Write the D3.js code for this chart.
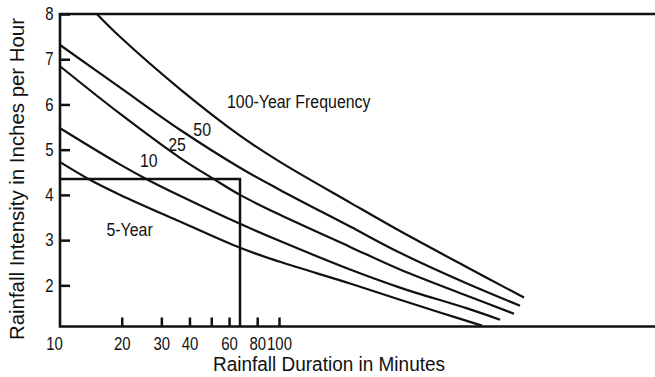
<!doctype html>
<html>
<head>
<meta charset="utf-8">
<title>Rainfall Intensity vs Duration</title>
<script src="https://d3js.org/d3.v7.min.js"></script>
<style>
  body { margin: 0; background: #fff; }
  text { font-family: "Liberation Sans", Arial, sans-serif; fill: #111; }
</style>
</head>
<body>
<svg width="655" height="377"></svg>
<script>
// durations (minutes) and intensities (inches per hour)
const dur5   = [10.6, 14.5, 19.7, 36.3, 67.1, 101, 207, 345, 519, 798];
const int5   = [4.73, 4.33, 4.00, 3.41, 2.83, 2.52, 2.04, 1.68, 1.40, 1.11];
const dur10  = [10.6, 19.7, 26.2, 36.3, 67.1, 101, 207, 345, 685, 960];
const int10  = [5.48, 4.67, 4.33, 3.98, 3.36, 2.98, 2.35, 1.95, 1.49, 1.24];
const dur25  = [10.6, 19.7, 36.3, 50.9, 67.1, 101, 207, 345, 685, 1108];
const int25  = [6.85, 5.79, 4.82, 4.36, 4.00, 3.56, 2.85, 2.35, 1.77, 1.37];
const dur50  = [10.6, 19.7, 36.3, 67.1, 101, 207, 345, 685, 1178];
const int50  = [7.32, 6.37, 5.44, 4.60, 4.11, 3.30, 2.72, 2.04, 1.55];
const dur100 = [15.5, 19.7, 36.3, 67.1, 101, 207, 345, 685, 1227];
const int100 = [8.00, 7.49, 6.34, 5.31, 4.73, 3.83, 3.20, 2.40, 1.73];

const xTicks = [10, 20, 30, 40, 50, 60, 80, 100];
const xTickLabels = ["10", "20", "30", "40", "", "60", "80", "100"];
const yTicks = [2, 3, 4, 5, 6, 7, 8];

// example reading: 67 minute storm -> 4.35 in/hr
const refDuration = 67.1, refIntensity = 4.35;

const curveLabels = [
  {text: "100-Year Frequency", t: 58.7, i: 5.92},
  {text: "50", t: 41.6, i: 5.31},
  {text: "25", t: 32.2, i: 4.97},
  {text: "10", t: 24.1, i: 4.61},
  {text: "5-Year", t: 17.1, i: 3.10}
];

const series = [
  [dur5, int5], [dur10, int10], [dur25, int25], [dur50, int50], [dur100, int100]
].map(([d, v]) => d.map((t, k) => ({t: t, i: v[k]})));

const svg = d3.select("svg");
const plotLeft = 60, plotRight = 655, plotTop = 14, plotBottom = 326.5;
const squeeze = 0.83; // condensed look of the original lettering

const x = d3.scaleLog().domain([10, 100]).range([54, 279]);
const y = d3.scaleLinear().domain([1.09, 8]).range([plotBottom, plotTop]);

// x axis, ticks pointing up into the plot
const xAxis = svg.append("g")
  .attr("transform", "translate(0," + plotBottom + ")")
  .call(d3.axisBottom(x).tickValues(xTicks)
    .tickFormat((d, k) => xTickLabels[k])
    .tickSizeInner(-9).tickSizeOuter(0).tickPadding(11));
xAxis.select(".domain").remove();
xAxis.selectAll(".tick line").attr("stroke", "#111").attr("stroke-width", 2.5)
  .filter(d => d === 10).remove();
xAxis.selectAll(".tick text").attr("font-size", 18).attr("fill", "#111")
  .attr("transform", "scale(" + squeeze + ",1)");

// y axis, ticks pointing right into the plot
const yAxis = svg.append("g")
  .attr("transform", "translate(" + plotLeft + ",0)")
  .call(d3.axisLeft(y).tickValues(yTicks).tickFormat(d3.format("d"))
    .tickSizeInner(-10).tickSizeOuter(0).tickPadding(6.5 / squeeze));
yAxis.select(".domain").remove();
yAxis.selectAll(".tick line").attr("stroke", "#111").attr("stroke-width", 2.5);
yAxis.selectAll(".tick text").attr("font-size", 18).attr("fill", "#111")
  .attr("transform", "scale(" + squeeze + ",1)");

// frame: left, top, bottom
svg.append("path")
  .attr("d", "M" + plotRight + "," + plotTop + "H" + plotLeft + "V" + plotBottom + "H" + plotRight)
  .attr("fill", "none").attr("stroke", "#111").attr("stroke-width", 2.6);

// curves
const line = d3.line().x(d => x(d.t)).y(d => y(d.i)).curve(d3.curveCatmullRom.alpha(0.5));
svg.append("g").selectAll("path")
  .data(series)
  .enter().append("path")
  .attr("d", line)
  .attr("fill", "none")
  .attr("stroke", "#111")
  .attr("stroke-width", 2.2);

// example reading lines
svg.append("path")
  .attr("d", "M" + plotLeft + "," + y(refIntensity) + "H" + x(refDuration) + "V" + plotBottom)
  .attr("fill", "none").attr("stroke", "#111").attr("stroke-width", 2.5);

// curve labels
svg.append("g").selectAll("text")
  .data(curveLabels)
  .enter().append("text")
  .attr("transform", d => "translate(" + x(d.t) + "," + y(d.i) + ") scale(0.86,1)")
  .attr("font-size", 18.5)
  .text(d => d.text);

// axis titles
svg.append("text")
  .attr("x", 213).attr("y", 371)
  .attr("font-size", 19.5)
  .attr("textLength", 232)
  .attr("lengthAdjust", "spacingAndGlyphs")
  .text("Rainfall Duration in Minutes");

svg.append("text")
  .attr("transform", "translate(24,179) rotate(-90)")
  .attr("text-anchor", "middle")
  .attr("font-size", 21)
  .attr("textLength", 322)
  .attr("lengthAdjust", "spacingAndGlyphs")
  .text("Rainfall Intensity in Inches per Hour");
</script>
</body>
</html>
